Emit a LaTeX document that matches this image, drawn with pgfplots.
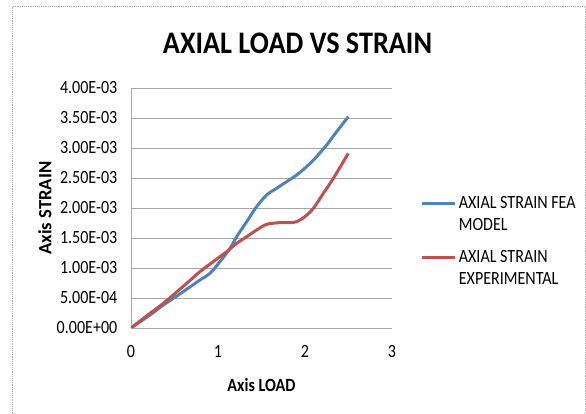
\documentclass[border=0pt]{standalone}
\usepackage{pgfplots}
\pgfplotsset{compat=1.18}
\usepackage{fontspec}
\setmainfont[FakeStretch=0.86]{Carlito}
\newfontfamily\titlefont[FakeStretch=0.9]{Carlito}
\newfontfamily\plainfont{Carlito}
\definecolor{feablue}{HTML}{4F81BD}
\definecolor{expred}{HTML}{C0504D}
\definecolor{gridgray}{HTML}{A6A6A6}
\pgfplotstableread{
x y
0 0
0.218 0.000217
0.372 0.000383
0.544 0.00055
0.793 0.0008
0.908 0.000911
1.023 0.001106
1.138 0.001328
1.215 0.001522
1.330 0.001772
1.444 0.002022
1.559 0.002217
1.674 0.002328
1.789 0.002439
1.904 0.00255
2.019 0.002689
2.134 0.002856
2.249 0.00305
2.364 0.003272
2.498 0.003522
}\fea
\pgfplotstableread{
x y
0 0
0.218 0.000244
0.372 0.000411
0.640 0.000744
0.793 0.000939
0.946 0.001106
1.100 0.001272
1.215 0.001411
1.330 0.001522
1.444 0.001633
1.559 0.001728
1.713 0.001756
1.828 0.001756
1.904 0.001772
1.999 0.001856
2.096 0.001994
2.211 0.002244
2.326 0.002494
2.498 0.002911
}\exper
\begin{document}
\begin{tikzpicture}[x=0.75pt,y=0.75pt]
\useasboundingbox (0,0) rectangle (586,414);
\draw[gray!70, densely dotted] (12,0) -- (12,408) -- (585,408) -- (585,0);
\node[font=\titlefont\fontsize{23.5}{26}\selectfont\bfseries] at (297.5,371) {AXIAL LOAD VS STRAIN};
\begin{axis}[
  at={(98.25pt,64.5pt)}, anchor=south west,
  scale only axis, width=195.75pt, height=180pt,
  xmin=0, xmax=3, ymin=0, ymax=0.004,
  xtick={0,1,2,3},
  ytick={0,0.0005,0.001,0.0015,0.002,0.0025,0.003,0.0035,0.004},
  yticklabels={0.00E+00,5.00E-04,1.00E-03,1.50E-03,2.00E-03,2.50E-03,3.00E-03,3.50E-03,4.00E-03},
  scaled y ticks=false,
  /pgf/number format/assume math mode=true,
  major tick length=0pt,
  axis x line*=bottom, axis y line*=left,
  axis line style={gridgray, -},
  ymajorgrids, grid style={gridgray, line width=0.6pt},
  tick label style={font=\fontsize{14}{16}\selectfont},
  yticklabel style={xshift=-6.75pt},
  xticklabel style={yshift=-9.5pt},
  xlabel={Axis LOAD}, ylabel={\plainfont Axis STRAIN},
  label style={font=\fontsize{14}{16}\selectfont\bfseries},
  xlabel style={at={(axis description cs:0.5,0)}, anchor=center, yshift=-42.75pt},
  ylabel style={at={(axis description cs:0,0.5)}, anchor=center, yshift=64.5pt},
  legend style={draw=none, fill=none, at={(axis description cs:1.107,0.56)}, anchor=north west,
    font=\fontsize{14}{16.5}\selectfont, row sep=9pt, inner sep=0pt},
  legend cell align=left,
  legend image code/.code={\draw[#1, line width=2.25pt] (0pt,8.25pt) -- (24.75pt,8.25pt);},
]
\addplot[feablue, line width=2.25pt, smooth] table {\fea};
\addlegendentry[align=left]{AXIAL STRAIN FEA\\MODEL}
\addplot[expred, line width=2.25pt, smooth] table {\exper};
\addlegendentry[align=left]{AXIAL STRAIN\\EXPERIMENTAL}
\end{axis}
\end{tikzpicture}
\end{document}
